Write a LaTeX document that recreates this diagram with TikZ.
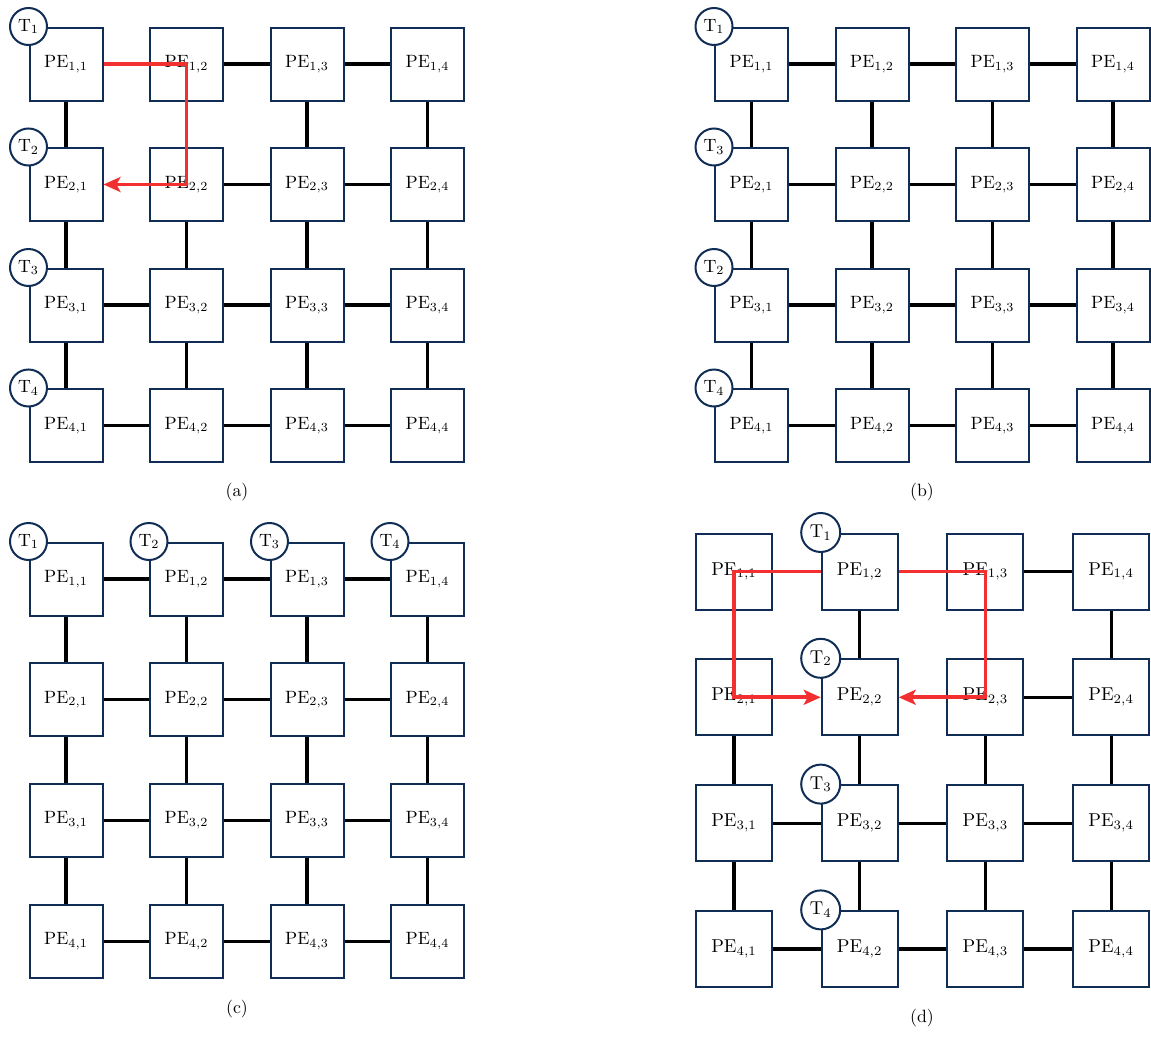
\documentclass[tikz,border=0pt]{standalone}
\usetikzlibrary{arrows.meta}
\definecolor{navy}{RGB}{16,45,85}
\definecolor{pathred}{RGB}{242,48,48}
\newcommand{\lblA}[1]{\scalebox{1.78}{#1}}
\newcommand{\lblD}[1]{\scalebox{1.86}{#1}}
\tikzset{
  pebox/.style={draw=navy, line width=2pt, fill=white, minimum size=73pt, inner sep=0pt},
  peboxd/.style={pebox, minimum size=76pt},
  tcirc/.style={circle, draw=navy, line width=2pt, fill=white, minimum size=37pt, inner sep=0pt},
  tcircd/.style={tcirc, minimum size=39pt},
  link/.style={line width=3.2pt, black},
  redpath/.style={line width=3.8pt, pathred, line join=miter},
  redarrow/.style={redpath, -{Stealth[length=17pt, width=15pt, inset=4pt]}},
  caption/.style={inner sep=0pt}
}
\begin{document}
\begin{tikzpicture}[x=1pt,y=-1pt]
\useasboundingbox (0,0) rectangle (1151,1036);
% ---------- boxes ----------
\foreach \r in {1,...,4}{
  \foreach \c in {1,...,4}{
    \node[pebox] (a\r\c) at ({66+120.5*(\c-1)},{64+120.5*(\r-1)}) {\lblA{PE$_{\r,\c}$}};
    \node[pebox] (b\r\c) at ({751.5+120.5*(\c-1)},{64+120.5*(\r-1)}) {\lblA{PE$_{\r,\c}$}};
    \node[pebox] (c\r\c) at ({66+120.5*(\c-1)},{579+120.7*(\r-1)}) {\lblA{PE$_{\r,\c}$}};
    \node[peboxd] (d\r\c) at ({734+125.7*(\c-1)},{571.5+125.8*(\r-1)}) {\lblD{PE$_{\r,\c}$}};
  }
}
% ---------- links panel (a) ----------
\foreach \u/\v in {a12/a13,a13/a14,a22/a23,a23/a24,a31/a32,a32/a33,a33/a34,a41/a42,a42/a43,a43/a44,
                   a11/a21,a13/a23,a14/a24,a21/a31,a22/a32,a23/a33,a24/a34,a31/a41,a32/a42,a33/a43,a34/a44}
  \draw[link] (\u) -- (\v);
% ---------- links panels (b), (c) ----------
\foreach \p in {b,c}{
  \foreach \r in {1,...,4}{
    \foreach \c [evaluate=\c as \n using int(\c+1)] in {1,2,3}
      \draw[link] (\p\r\c) -- (\p\r\n);
  }
  \foreach \r [evaluate=\r as \s using int(\r+1)] in {1,2,3}{
    \foreach \c in {1,...,4}
      \draw[link] (\p\r\c) -- (\p\s\c);
  }
}
% ---------- links panel (d) ----------
\foreach \u/\v in {d13/d14,d23/d24,d31/d32,d32/d33,d33/d34,d41/d42,d42/d43,d43/d44,
                   d12/d22,d14/d24,d21/d31,d22/d32,d23/d33,d24/d34,d31/d41,d32/d42,d33/d43,d34/d44}
  \draw[link] (\u) -- (\v);
% ---------- task circles ----------
\node[tcirc] (ta1) at (a11.north west) {\lblA{T$_1$}};
\node[tcirc] (ta2) at (a21.north west) {\lblA{T$_2$}};
\node[tcirc] (ta3) at (a31.north west) {\lblA{T$_3$}};
\node[tcirc] (ta4) at (a41.north west) {\lblA{T$_4$}};
\node[tcirc] (tb1) at (b11.north west) {\lblA{T$_1$}};
\node[tcirc] (tb3) at (b21.north west) {\lblA{T$_3$}};
\node[tcirc] (tb2) at (b31.north west) {\lblA{T$_2$}};
\node[tcirc] (tb4) at (b41.north west) {\lblA{T$_4$}};
\node[tcirc] (tc1) at (c11.north west) {\lblA{T$_1$}};
\node[tcirc] (tc2) at (c12.north west) {\lblA{T$_2$}};
\node[tcirc] (tc3) at (c13.north west) {\lblA{T$_3$}};
\node[tcirc] (tc4) at (c14.north west) {\lblA{T$_4$}};
\node[tcircd] (td1) at (d12.north west) {\lblD{T$_1$}};
\node[tcircd] (td2) at (d22.north west) {\lblD{T$_2$}};
\node[tcircd] (td3) at (d32.north west) {\lblD{T$_3$}};
\node[tcircd] (td4) at (d42.north west) {\lblD{T$_4$}};
% ---------- red paths ----------
\draw[redarrow] (a11.east) -- (a11.east -| a12.center) -- (a12.center |- a22.center) -- (a21.east);
\draw[redarrow] (d12.west) -- (d12.west -| d11.center) -- (d11.center |- d21.center) -- (d22.west);
\draw[redarrow] (d12.east) -- (d12.east -| d13.center) -- (d13.center |- d23.center) -- (d22.east);
% ---------- captions ----------
\node[caption] (capa) at (237,492) {\lblA{(a)}};
\node[caption] (capb) at (922,492) {\lblA{(b)}};
\node[caption] (capc) at (237,1009) {\lblA{(c)}};
\node[caption] (capd) at (922,1018) {\lblA{(d)}};
\end{tikzpicture}
\end{document}
